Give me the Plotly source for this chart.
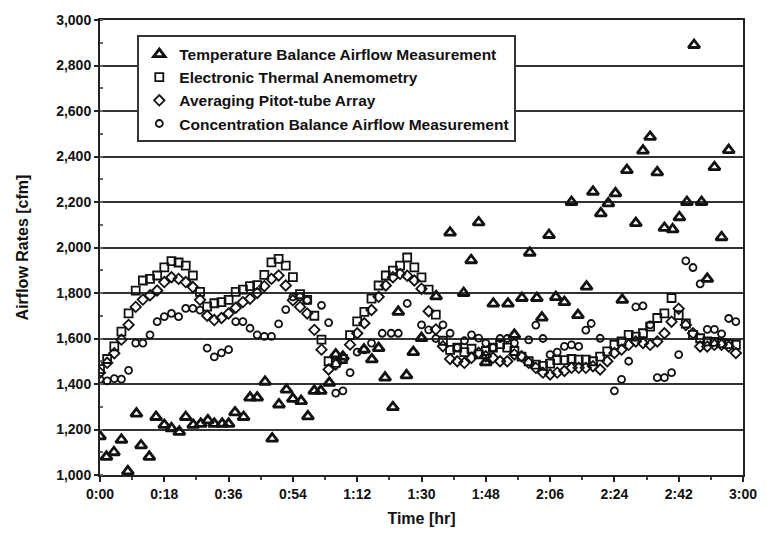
import plotly.graph_objects as go

# ---- data (time in minutes, airflow in cfm) ----
t_grid = list(range(0, 180, 2))

thermal_anem = [1465, 1510, 1565, 1630, 1710, 1810, 1855, 1862, 1877, 1913,
                1940, 1934, 1920, 1877, 1805, 1740, 1755, 1760, 1770, 1805,
                1815, 1830, 1835, 1880, 1935, 1950, 1920, 1870, 1795, 1770,
                1700, 1595, 1500, 1493, 1510, 1615, 1675, 1717, 1775, 1833,
                1877, 1898, 1920, 1956, 1913, 1869, 1815, 1705, 1590, 1550,
                1560, 1540, 1555, 1530, 1545, 1560, 1575, 1560, 1545, 1520,
                1500, 1485, 1480, 1490, 1505, 1505, 1510, 1507, 1507, 1500,
                1520, 1543, 1572, 1587, 1616, 1608, 1623, 1652, 1690, 1710,
                1778, 1703, 1666, 1616, 1601, 1587, 1585, 1580, 1575, 1572]

pitot_array = [1450, 1493, 1535, 1595, 1660, 1739, 1771, 1790, 1811, 1848,
               1869, 1862, 1848, 1826, 1770, 1700, 1681, 1690, 1710, 1735,
               1760, 1775, 1800, 1830, 1862, 1877, 1833, 1768, 1739, 1710,
               1638, 1551, 1464, 1486, 1515, 1573, 1623, 1667, 1725, 1783,
               1833, 1869, 1884, 1876, 1855, 1819, 1720, 1640, 1566, 1510,
               1500, 1493, 1515, 1537, 1522, 1515, 1500, 1500, 1530, 1522,
               1493, 1471, 1450, 1442, 1450, 1457, 1471, 1471, 1471, 1478,
               1464, 1500, 1536, 1551, 1572, 1587, 1580, 1572, 1587, 1623,
               1674, 1731, 1659, 1623, 1565, 1565, 1572, 1572, 1565, 1536]

t_conc = [0, 2, 4, 6, 8, 10, 12, 14, 16, 18, 20, 22, 24, 26, 28, 30, 32, 34,
          36, 38, 40, 42, 44, 46, 48, 50, 52, 54, 56, 58, 62, 64, 66, 68, 70,
          72, 74, 76, 79, 81.5, 83.5, 86, 90, 92, 94, 96, 98, 100, 102, 104,
          106, 108, 110, 112, 114, 116, 120, 122, 124, 126, 128, 130, 132,
          134, 136, 137.5, 140, 144, 146, 148, 150, 152, 154, 156, 158, 160,
          162, 164, 166, 168, 170, 172, 174, 176, 178]
concentration = [1420, 1414, 1424, 1421, 1460, 1580, 1580, 1616, 1674, 1696,
                 1710, 1696, 1732, 1732, 1725, 1558, 1519, 1537, 1551, 1674,
                 1674, 1645, 1616, 1609, 1609, 1664, 1727, 1783, 1783, 1768,
                 1746, 1670, 1360, 1370, 1450, 1540, 1550, 1580, 1623, 1623,
                 1623, 1754, 1660, 1638, 1600, 1660, 1623, 1560, 1590, 1616,
                 1602, 1580, 1560, 1600, 1600, 1580, 1594, 1659, 1600, 1529,
                 1540, 1565, 1572, 1565, 1637, 1666, 1601, 1370, 1420, 1500,
                 1739, 1743, 1660, 1428, 1428, 1450, 1529, 1941, 1912, 1840,
                 1640, 1640, 1620, 1688, 1674]

t_temp = [0, 1.8, 3.9, 6, 7.8, 10.2, 11.5, 13.8, 15.7, 18, 20, 22.2, 24, 26.1,
          28.2, 30.2, 32, 34.2, 36, 37.8, 40.2, 42, 44, 46.2, 48.2, 50.1, 52.2,
          54, 56.3, 58.2, 60, 61.8, 64.2, 66, 68, 73.9, 76.1, 78, 79.8, 82,
          83.5, 85.8, 87.7, 90, 94.1, 98, 101.8, 103.9, 106, 108, 110.1, 114.2,
          116, 118.1, 120.3, 122.3, 123.7, 125.7, 127.6, 130, 132, 133.8,
          136.2, 138, 140.2, 142.3, 144.3, 146.2, 147.5, 150, 152, 154, 156,
          158, 160.3, 162.2, 164.3, 166.3, 168.4, 170, 172, 174, 176]
temperature = [1170, 1080, 1100, 1155, 1016, 1270, 1130, 1080, 1255, 1220,
               1205, 1190, 1255, 1220, 1225, 1240, 1225, 1225, 1225, 1275,
               1255, 1340, 1340, 1410, 1160, 1310, 1375, 1335, 1325, 1258,
               1370, 1370, 1405, 1530, 1520, 1551, 1508, 1558, 1428, 1298,
               1717, 1438, 1540, 1602, 1785, 2065, 1800, 1944, 2110, 1495,
               1753, 1753, 1616, 1778, 1977, 1778, 1692, 2055, 1782, 1760,
               2200, 1703, 1828, 2245, 2150, 2194, 2238, 1770, 2340, 2107,
               2426, 2486, 2330, 2086, 2080, 2133, 2200, 2890, 2200, 1862,
               2353, 2045, 2428]

tick_vals = [0, 18, 36, 54, 72, 90, 108, 126, 144, 162, 180]
tick_text = ["0:00", "0:18", "0:36", "0:54", "1:12", "1:30", "1:48",
             "2:06", "2:24", "2:42", "3:00"]

names = ["Temperature Balance Airflow Measurement",
         "Electronic Thermal Anemometry",
         "Averaging Pitot-tube Array",
         "Concentration Balance Airflow Measurement"]

INK = "#111111"
FONT = "Liberation Sans"

fig = go.Figure()
fig.add_trace(go.Scatter(x=t_temp, y=temperature, mode="markers", name=names[0],
                         legendgroup="a",
                         marker=dict(symbol="triangle-up-open", size=10, color=INK,
                                     line=dict(width=2.8, color=INK))))
fig.add_trace(go.Scatter(x=t_grid, y=thermal_anem, mode="markers", name=names[1],
                         legendgroup="b",
                         marker=dict(symbol="square-open", size=8, color=INK,
                                     line=dict(width=1.8, color=INK))))
fig.add_trace(go.Scatter(x=t_grid, y=pitot_array, mode="markers", name=names[2],
                         legendgroup="c",
                         marker=dict(symbol="diamond-open", size=8, color=INK,
                                     line=dict(width=1.8, color=INK))))
fig.add_trace(go.Scatter(x=t_conc, y=concentration, mode="markers", name=names[3],
                         legendgroup="d",
                         marker=dict(symbol="circle-open", size=7, color=INK,
                                     line=dict(width=1.8, color=INK))))

fig.update_layout(
    width=769, height=537,
    margin=dict(l=100, r=19, t=16, b=60),
    paper_bgcolor="white", plot_bgcolor="white",
    font=dict(family=FONT, size=13, color=INK, weight="bold"),
    showlegend=True,
    legend=dict(x=0.058, y=0.966, xanchor="left", yanchor="top",
                bgcolor="white", bordercolor="#333333", borderwidth=2,
                font=dict(family=FONT, size=15.5, color=INK, weight="bold"),
                tracegroupgap=1, traceorder="normal"),
)
fig.update_xaxes(range=[0, 180], tickmode="array", tickvals=tick_vals,
                 ticktext=tick_text, showgrid=False, zeroline=False,
                 showline=True, linecolor="#222222", linewidth=2, mirror=True,
                 ticks="outside", ticklen=5, tickwidth=1.5, tickcolor="#222222",
                 minor=dict(ticks="outside", dtick=9, ticklen=3, tickcolor="#444444"),
                 tickfont=dict(family=FONT, size=14, color=INK, weight="bold"),
                 title=dict(text="Time [hr]", standoff=12,
                            font=dict(family=FONT, size=16, color=INK, weight="bold")))
fig.update_yaxes(range=[1000, 3000], dtick=200, tickformat=",d",
                 showgrid=True, gridcolor="#333333", gridwidth=1.6, zeroline=False,
                 showline=True, linecolor="#222222", linewidth=2, mirror=True,
                 ticks="outside", ticklen=4, tickwidth=1.5, tickcolor="#222222",
                 minor=dict(ticks="inside", dtick=100, ticklen=3, tickcolor="#666666"),
                 tickfont=dict(family=FONT, size=14, color=INK, weight="bold"),
                 title=dict(text="Airflow Rates [cfm]", standoff=24,
                            font=dict(family=FONT, size=16, color=INK, weight="bold")))

fig.write_html("out.html")
